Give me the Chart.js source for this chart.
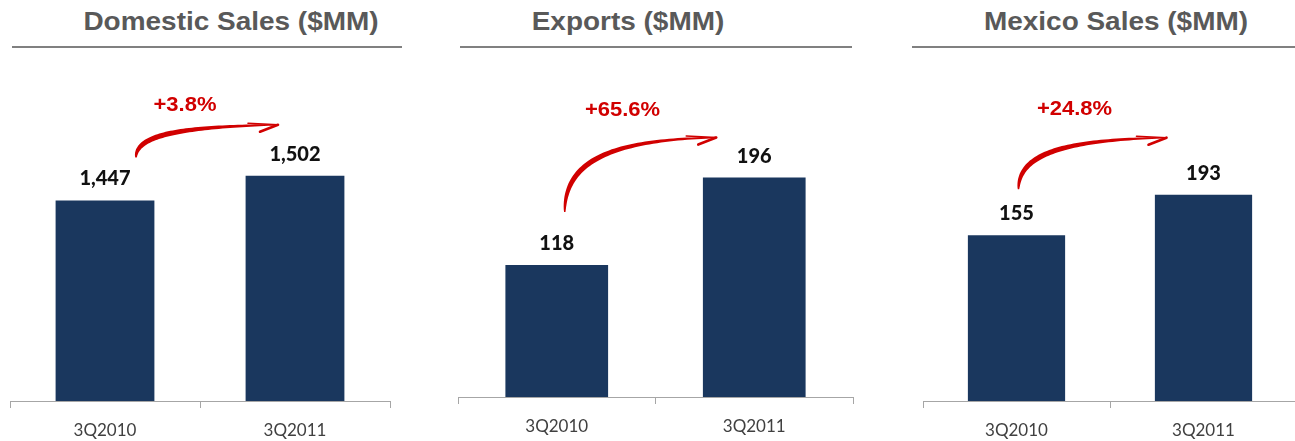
<!DOCTYPE html>
<html>
<head>
<meta charset="utf-8">
<script src="https://cdn.jsdelivr.net/npm/chart.js@4.4.0/dist/chart.umd.min.js"></script>
<style>
  html, body { margin: 0; padding: 0; background: #ffffff; overflow: hidden; }
  body { width: 1295px; height: 441px; position: relative; }
  .panel { position: absolute; top: 0; height: 441px; }
  .title {
    position: absolute; top: 6px; width: 400px; height: 30px; line-height: 30px;
    text-align: center; white-space: nowrap;
    font-family: "Liberation Sans", Arial, sans-serif; font-weight: bold; font-size: 26px;
    color: #595959; transform: scaleX(1.075); transform-origin: center;
  }
  .rule { position: absolute; top: 46px; height: 2px; background: #808080; }
</style>
</head>
<body>
<script>
// Quarterly comparison, $MM
const categories = ['3Q2010', '3Q2011'];
const domesticSales = [1447, 1502];
const exportSales = [118, 196];
const mexicoSales = [155, 193];
const growthLabels = ['+3.8%', '+65.6%', '+24.8%'];
const panelTitles = ['Domestic Sales ($MM)', 'Exports ($MM)', 'Mexico Sales ($MM)'];

const BAR_COLOR = '#1a375e';
const AXIS_COLOR = '#a6a6a6';
const ARROW_COLOR = '#d10000';

const panels = [
  { values: domesticSales, title: panelTitles[0], growth: growthLabels[0],
    yMin: 1000, yMax: 1760, axisHeight: 40, left: 10, width: 380,
    titleCenter: 231, ruleLeft: 12, ruleRight: 402,
    arrowStart: [31, -43], arrowEnd: [-17, -51], growthShift: [-22, -14] },
  { values: exportSales, title: panelTitles[1], growth: growthLabels[1],
    yMin: 0, yMax: 301, axisHeight: 44, left: 458, width: 395,
    titleCenter: 628, ruleLeft: 460, ruleRight: 852,
    arrowStart: [8, -53], arrowEnd: [-38, -40], growthShift: [-18, -22] },
  { values: mexicoSales, title: panelTitles[2], growth: growthLabels[2],
    yMin: 0, yMax: 319, axisHeight: 40, left: 923, width: 374,
    titleCenter: 1116, ruleLeft: 912, ruleRight: 1295,
    arrowStart: [2, -46], arrowEnd: [-37, -57], growthShift: [-18, -23] }
];

// Curved growth arrow: tapered cubic stroke plus a barbed head
function drawGrowthArrow(ctx, S, E) {
  const dx = E.x - S.x, dy = S.y - E.y;
  const C1 = { x: S.x, y: S.y - 0.7 * dy };
  const C2 = { x: S.x + 0.32 * dx, y: E.y + 2 };
  const pt = t => {
    const u = 1 - t;
    return {
      x: u*u*u*S.x + 3*u*u*t*C1.x + 3*u*t*t*C2.x + t*t*t*E.x,
      y: u*u*u*S.y + 3*u*u*t*C1.y + 3*u*t*t*C2.y + t*t*t*E.y
    };
  };
  const N = 60, left = [], right = [];
  for (let i = 0; i <= N; i++) {
    const t = i / N;
    const p = pt(t);
    const a = pt(Math.max(0, t - 0.01)), b = pt(Math.min(1, t + 0.01));
    let tx = b.x - a.x, ty = b.y - a.y;
    const len = Math.hypot(tx, ty) || 1;
    tx /= len; ty /= len;
    const w = (1.4 + 3.8 * Math.sin(Math.PI * Math.pow(t, 0.7))) / 2;
    left.push({ x: p.x - ty * w, y: p.y + tx * w });
    right.push({ x: p.x + ty * w, y: p.y - tx * w });
  }
  ctx.save();
  ctx.fillStyle = ARROW_COLOR;
  ctx.beginPath();
  ctx.moveTo(left[0].x, left[0].y);
  left.forEach(p => ctx.lineTo(p.x, p.y));
  for (let i = right.length - 1; i >= 0; i--) ctx.lineTo(right[i].x, right[i].y);
  ctx.closePath();
  ctx.fill();
  ctx.strokeStyle = ARROW_COLOR;
  ctx.lineCap = 'round';
  ctx.lineWidth = 2.6;
  ctx.beginPath();
  ctx.moveTo(E.x, E.y);
  ctx.lineTo(E.x - 18, E.y + 7);
  ctx.stroke();
  ctx.lineWidth = 1.6;
  ctx.beginPath();
  ctx.moveTo(E.x, E.y);
  ctx.lineTo(E.x - 30, E.y - 1.5);
  ctx.stroke();
  ctx.restore();
}

const annotationsPlugin = {
  id: 'panelAnnotations',
  afterDatasetsDraw(chart, args, opts) {
    const ctx = chart.ctx;
    const bars = chart.getDatasetMeta(0).data;
    const values = chart.data.datasets[0].data;
    // value labels above each bar
    ctx.save();
    ctx.fillStyle = '#111111';
    ctx.font = '900 20px Lato, "Open Sans", sans-serif';
    ctx.textAlign = 'center';
    ctx.textBaseline = 'alphabetic';
    bars.forEach((bar, i) => {
      ctx.fillText(values[i].toLocaleString('en-US'), bar.x, bar.y - 15);
    });
    ctx.restore();
    // growth arrow from first to second period
    const S = { x: bars[0].x + opts.arrowStart[0], y: bars[0].y + opts.arrowStart[1] };
    const E = { x: bars[1].x + opts.arrowEnd[0], y: bars[1].y + opts.arrowEnd[1] };
    drawGrowthArrow(ctx, S, E);
    ctx.save();
    ctx.fillStyle = ARROW_COLOR;
    ctx.font = 'bold 20px "Liberation Sans", Arial, sans-serif';
    ctx.textAlign = 'center';
    ctx.textBaseline = 'alphabetic';
    ctx.translate((S.x + E.x) / 2 + opts.growthShift[0], E.y + opts.growthShift[1]);
    ctx.scale(1.1, 1);
    ctx.fillText(opts.growth, 0, 0);
    ctx.restore();
  }
};

panels.forEach(p => {
  const title = document.createElement('div');
  title.className = 'title';
  title.style.left = (p.titleCenter - 200) + 'px';
  title.textContent = p.title;
  document.body.appendChild(title);

  const rule = document.createElement('div');
  rule.className = 'rule';
  rule.style.left = p.ruleLeft + 'px';
  rule.style.width = (p.ruleRight - p.ruleLeft) + 'px';
  document.body.appendChild(rule);

  const wrap = document.createElement('div');
  wrap.className = 'panel';
  wrap.style.left = p.left + 'px';
  wrap.style.width = (p.width + 1) + 'px';
  const canvas = document.createElement('canvas');
  wrap.appendChild(canvas);
  document.body.appendChild(wrap);

  new Chart(canvas, {
    type: 'bar',
    data: {
      labels: categories,
      datasets: [{
        data: p.values,
        backgroundColor: BAR_COLOR,
        borderWidth: 0,
        categoryPercentage: 1,
        barPercentage: 0.52
      }]
    },
    options: {
      responsive: true,
      maintainAspectRatio: false,
      animation: false,
      events: [],
      layout: { padding: { top: 60, right: 1, left: 0, bottom: 0 } },
      plugins: {
        legend: { display: false },
        tooltip: { enabled: false },
        title: { display: false },
        panelAnnotations: {
          growth: p.growth,
          arrowStart: p.arrowStart,
          arrowEnd: p.arrowEnd,
          growthShift: p.growthShift
        }
      },
      scales: {
        x: {
          offset: true,
          grid: { offset: true, drawOnChartArea: false, drawTicks: true, tickLength: 7, color: AXIS_COLOR },
          border: { display: true, color: AXIS_COLOR, width: 1 },
          ticks: {
            color: '#404040',
            padding: 12,
            font: { family: 'Lato, "Open Sans", sans-serif', size: 17 }
          },
          afterFit: scale => { scale.height = p.axisHeight; }
        },
        y: { display: false, min: p.yMin, max: p.yMax }
      }
    },
    plugins: [annotationsPlugin]
  });
});
</script>
</body>
</html>
